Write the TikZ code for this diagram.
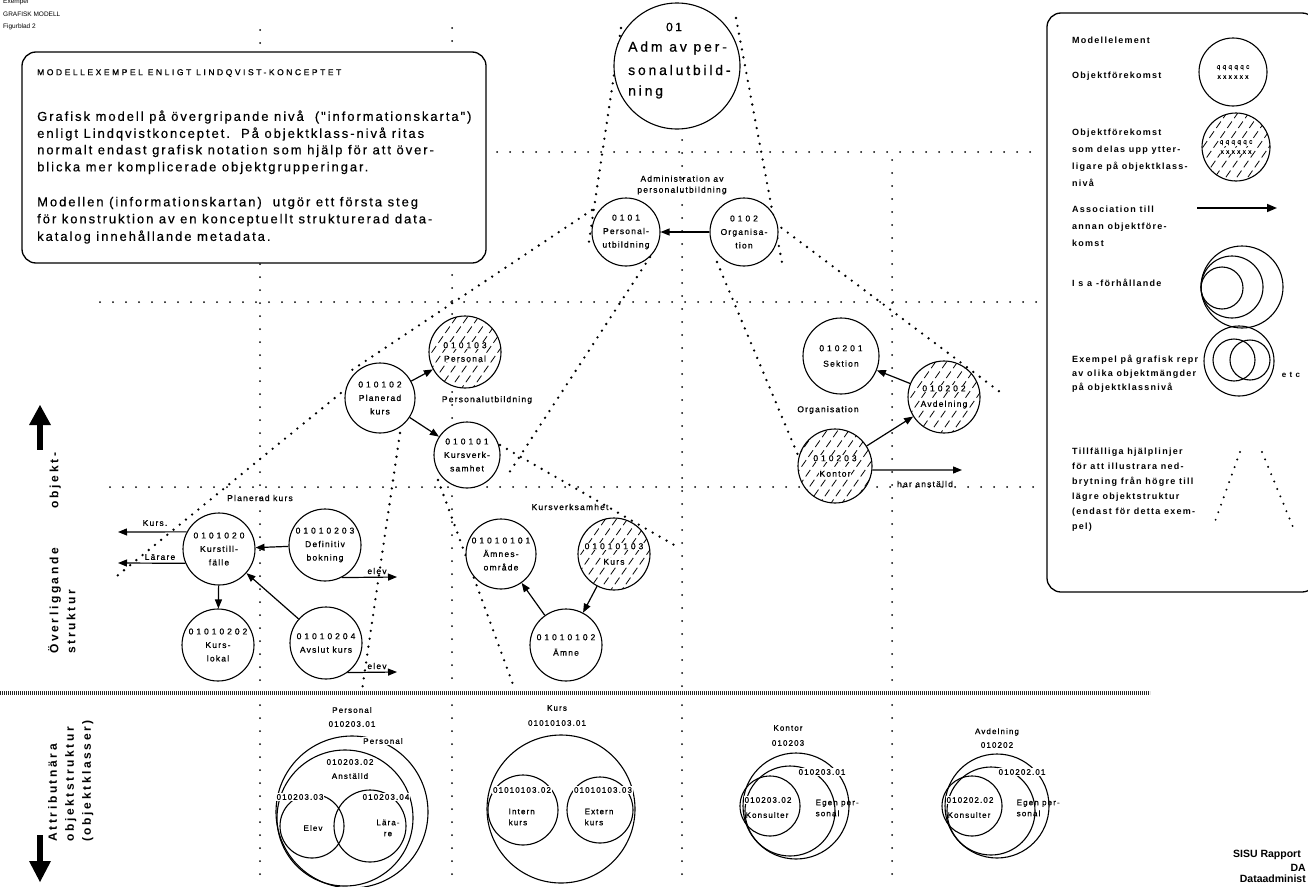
\documentclass[tikz,border=0pt]{standalone}
\usepackage{fontspec}
\setmainfont{Liberation Sans}
\newfontfamily\labf[LetterSpace=14, FakeBold=0.7]{Liberation Sans}
\newfontfamily\numf[LetterSpace=35, FakeBold=0.7]{Liberation Sans}
\newfontfamily\boxf[LetterSpace=15, FakeBold=0.4]{Liberation Sans}
\newfontfamily\capf[LetterSpace=30, FakeBold=0.8]{Liberation Sans}
\newfontfamily\bigf[LetterSpace=20, FakeBold=0.6]{Liberation Sans}
\newfontfamily\legf[LetterSpace=14, UprightFont={* Bold}]{Liberation Sans}
\newfontfamily\sidef[LetterSpace=22, UprightFont={* Bold}]{Liberation Sans}
\usetikzlibrary{arrows.meta}

\newcommand\lblsize{\labf\fontsize{8.5}{13.5}\selectfont}
\newcommand\smalllbl{\labf\fontsize{8}{11}\selectfont}
\newcommand\N[1]{{\numf #1}}
\newcommand\wb[1]{\colorbox{white}{#1}}
\setlength\fboxsep{0.6pt}

\tikzset{
  gridline/.style={line width=2pt, dash pattern=on 0pt off 13pt, line cap=round},
  helper/.style={line width=2.6pt, dash pattern=on 0pt off 8pt, line cap=round},
  obj/.style={circle, draw, line width=1.1pt, fill=white, minimum size=#1,
    inner sep=0pt, align=center, font=\lblsize},
  obj/.default=72pt,
  hatched/.style={path picture={
      \foreach \k in {-7,...,7}
        \draw[line width=0.8pt, dash pattern=on 8pt off 4pt]
          ([shift={(\k*11pt-28pt,-40pt)}]path picture bounding box.center) -- ++(56pt,80pt);
  }},
  assoc/.style={-{Triangle[length=9pt,width=7pt]}, line width=1.2pt},
  lbl/.style={font=\lblsize, inner sep=0.5pt},
  attr/.style={line width=1.1pt},
  gap/.style={font=\smalllbl, fill=white, inner sep=1pt},
  leg/.style={font=\legf\fontsize{9}{17}\selectfont, anchor=north west, align=left, inner sep=0pt},
  para/.style={font=\boxf\fontsize{13}{17}\selectfont, anchor=west, inner sep=0pt},
  side/.style={font=\sidef\fontsize{12}{17}\selectfont, rotate=90, anchor=north west, align=left, inner sep=0pt},
  report/.style={anchor=east, inner sep=0pt, font=\bfseries\fontsize{10.5}{12}\selectfont},
}

\begin{document}
\begin{tikzpicture}[x=1pt,y=-1pt]
\useasboundingbox (0,0) rectangle (1308,886);
\fill[white] (0,0) rectangle (1308,886);

% --- level grid -------------------------------------------------------
\draw[gridline] (497,152) -- (1040,152);
\draw[gridline] (100,302) -- (1040,302);
\draw[gridline] (110,487) -- (1040,487);
\draw[gridline] (260,30) -- (260,690);
\draw[gridline] (260,705) -- (260,886);
\draw[gridline] (452,28) -- (452,690);
\draw[gridline] (452,705) -- (452,886);
\draw[gridline] (682,140) -- (682,690);
\draw[gridline] (682,705) -- (682,886);
\draw[gridline] (892,160) -- (892,690);
\draw[gridline] (892,705) -- (892,886);

% --- break-down help lines ----------------------------------------------
\draw[helper] (621,28) -- (588,248);
\draw[helper] (736,18) -- (783,268);
\draw[helper] (592,210) -- (352,370);
\draw[helper] (650,257) -- (507,476);
\draw[helper] (347,388) -- (112,580);
\draw[helper] (400,433) -- (362,690);
\draw[helper] (438,480) -- (515,690);
\draw[helper] (500,445) -- (676,546);
\draw[helper] (717,262) -- (805,472);
\draw[helper] (775,223) -- (1000,392);

% --- border between the two structure levels ----------------------------
\draw[line width=4.5pt, black!85, dash pattern=on 1.3pt off 0.7pt] (0,693) -- (1150,693);

% --- header -------------------------------------------------------------
\node[anchor=west, font=\fontsize{6.5}{7}\selectfont, inner sep=0pt] at (3,2) {Exempel};
\node[anchor=west, font=\fontsize{6.5}{7}\selectfont, inner sep=0pt] at (3,14) {GRAFISK MODELL};
\node[anchor=west, font=\fontsize{6.5}{7}\selectfont, inner sep=0pt] at (3,27) {Figurblad 2};

% --- description box ----------------------------------------------------
\draw[line width=1.3pt, fill=white, rounded corners=14pt] (22,52) rectangle (486,263);
\node[anchor=west, inner sep=0pt, font=\capf\fontsize{8.5}{10}\selectfont] at (37,73) {MODELLEXEMPEL ENLIGT LINDQVIST-KONCEPTET};
\node[para] at (37,117) {Grafisk modell på övergripande nivå\ \ ("informationskarta")};
\node[para] at (37,134) {enligt Lindqvistkonceptet.\ \ På objektklass-nivå ritas};
\node[para] at (37,151) {normalt endast grafisk notation som hjälp för att över-};
\node[para] at (37,168) {blicka mer komplicerade objektgrupperingar.};
\node[para] at (37,203) {Modellen (informationskartan)\ \ utgör ett första steg};
\node[para] at (37,220) {för konstruktion av en konceptuellt strukturerad data-};
\node[para] at (37,237) {katalog innehållande metadata.};

% --- top object ---------------------------------------------------------
\node[obj=126pt] (c01) at (677,66) {};
\node[font=\bigf\fontsize{12}{14}\selectfont, inner sep=0pt] at (674,27) {01};
\node[anchor=west, inner sep=0pt, font=\bigf\fontsize{14}{16}\selectfont] at (628,48) {Adm av per-};
\node[anchor=west, inner sep=0pt, font=\bigf\fontsize{14}{16}\selectfont] at (628,70) {sonalutbild-};
\node[anchor=west, inner sep=0pt, font=\bigf\fontsize{14}{16}\selectfont] at (628,92) {ning};

% --- Administration av personalutbildning -------------------------------
\node[lbl, align=center, font=\labf\fontsize{8.5}{11}\selectfont] at (682,185) {Administration av\\personalutbildning};
\node[obj=68pt] (n0101) at (626,232) {\N{0101}\\Personal-\\utbildning};
\node[obj=68pt] (n0102) at (744,232) {\N{0102}\\Organisa-\\tion};
\draw[assoc] (n0102) -- (n0101);

% --- Personalutbildning -------------------------------------------------
\node[obj=72pt, hatched] (n010103) at (465,352) {\wb{\N{010103}}\\\wb{Personal}};
\node[obj=70pt] (n010102) at (380,398) {\N{010102}\\Planerad\\kurs};
\node[obj=66pt] (n010101) at (467,455) {\N{010101}\\Kursverk-\\samhet};
\node[lbl] at (487,400) {Personalutbildning};
\draw[assoc] (n010102) -- (n010103);
\draw[assoc] (n010102) -- (n010101);

% --- Organisation -------------------------------------------------------
\node[obj=76pt] (n010201) at (841,356) {\N{010201}\\[2pt]Sektion};
\node[obj=72pt, hatched] (n010202) at (944,397) {\wb{\N{010202}}\\[2pt]\wb{Avdelning}};
\node[obj=74pt, hatched] (n010203) at (835,466) {\wb{\N{010203}}\\[2pt]\wb{Kontor}};
\node[lbl] at (828,410) {Organisation};
\coordinate (harR) at (962,470);
\draw[assoc] (n010202) -- (n010201);
\draw[assoc] (n010203) -- (n010202);
\draw[assoc] (n010203.-6) -- (harR);
\node[lbl] at (925,484) {har anställd};

% --- Planerad kurs ------------------------------------------------------
\node[lbl] at (260,498) {Planerad kurs};
\node[obj=72pt] (k01) at (219,549) {\N{0101020}\\Kurstill-\\fälle};
\node[obj=72pt] (k03) at (325,545) {\N{01010203}\\Definitiv\\bokning};
\node[obj=72pt] (k02) at (218,645) {\N{01010202}\\Kurs-\\lokal};
\node[obj=72pt] (k04) at (326,643) {\N{01010204}\\Avslut kurs};
\coordinate (kursL) at (118,532);
\coordinate (larL) at (118,563);
\coordinate (elevA) at (397,577);
\coordinate (elevB) at (397,672);
\draw[assoc] (k01.152) -- (kursL);
\draw[assoc] (k01.203) -- (larL);
\draw[assoc] (k03) -- (k01);
\draw[assoc] (k04) -- (k01);
\draw[assoc] (k01) -- (k02);
\draw[assoc] (k03.-63) -- (elevA);
\draw[assoc] (k04.-54) -- (elevB);
\node[lbl] at (155,523) {Kurs.};
\node[lbl] at (160,557) {Lärare};
\node[lbl] at (377,571) {elev};
\node[lbl] at (377,666) {elev};

% --- Kursverksamhet -----------------------------------------------------
\node[lbl] at (570,507) {Kursverksamhet};
\node[obj=70pt] (m01) at (501,554) {\N{01010101}\\Ämnes-\\område};
\node[obj=72pt, hatched] (m03) at (614,554) {\wb{\N{01010103}}\\[2pt]\wb{Kurs}};
\node[obj=72pt] (m02) at (566,645) {\N{01010102}\\[2pt]Ämne};
\draw[assoc] (m02) -- (m01);
\draw[assoc] (m03) -- (m02);

% --- attribute level: Personal -----------------------------------------
\node[lbl, font=\smalllbl] at (352,710) {Personal};
\node[lbl, font=\smalllbl] at (352,724) {010203.01};
\draw[attr] (352,812) circle[radius=76pt];
\draw[attr] (345,818) circle[radius=68pt];
\draw[attr] (312,826) circle[radius=32pt];
\draw[attr] (370,826) circle[radius=36pt];
\node[gap] at (383,741) {Personal};
\node[lbl, font=\smalllbl] at (350,762) {010203.02};
\node[lbl, font=\smalllbl] at (350,776) {Anställd};
\node[gap] at (300,797) {010203.03};
\node[gap] at (386,797) {010203.04};
\node[lbl, font=\smalllbl] at (313,828) {Elev};
\node[lbl, font=\smalllbl, align=center] at (388,828) {Lära-\\re};

% --- attribute level: Kurs ---------------------------------------------
\node[lbl, font=\smalllbl] at (557,708) {Kurs};
\node[lbl, font=\smalllbl] at (557,723) {01010103.01};
\draw[attr] (561,809) circle[radius=74pt];
\draw[attr] (523,810) circle[radius=35pt];
\draw[attr] (600,810) circle[radius=33pt];
\node[gap] at (522,790) {01010103.02};
\node[gap] at (603,790) {01010103.03};
\node[lbl, font=\smalllbl, align=left, anchor=west] at (508,817) {Intern\\kurs};
\node[lbl, font=\smalllbl, align=left, anchor=west] at (584,817) {Extern\\kurs};

% --- attribute level: Kontor -------------------------------------------
\node[lbl, font=\smalllbl] at (788,728) {Kontor};
\node[lbl, font=\smalllbl] at (788,743) {010203};
\draw[attr] (796,806) circle[radius=53pt];
\draw[attr] (790,811) circle[radius=45pt];
\draw[attr] (770,806) circle[radius=30pt];
\node[gap] at (822,772) {010203.01};
\node[gap] at (768,800) {010203.02};
\node[lbl, font=\smalllbl] at (767,815) {Konsulter};
\node[lbl, font=\smalllbl, align=left, anchor=west] at (815,808) {Egen per-\\sonal};

% --- attribute level: Avdelning ----------------------------------------
\node[lbl, font=\smalllbl] at (997,732) {Avdelning};
\node[lbl, font=\smalllbl] at (997,745) {010202};
\draw[attr] (997,806) circle[radius=52pt];
\draw[attr] (991,811) circle[radius=44pt];
\draw[attr] (972,806) circle[radius=30pt];
\node[gap] at (1022,772) {010202.01};
\node[gap] at (970,800) {010202.02};
\node[lbl, font=\smalllbl] at (969,815) {Konsulter};
\node[lbl, font=\smalllbl, align=left, anchor=west] at (1016,808) {Egen per-\\sonal};

% --- level captions -----------------------------------------------------
\fill (37,450) rectangle (43,422);
\fill (29,425) -- (40,405) -- (51,425) -- cycle;
\node[side] at (48,654) {Överliggande\hspace{40pt}objekt-\\struktur};
\fill (37,835) rectangle (43,864);
\fill (29,861) -- (40,882) -- (51,861) -- cycle;
\node[side] at (48,842) {Attributnära\\objektstruktur\\(objektklasser)};

% --- legend -------------------------------------------------------------
\draw[line width=1.3pt, fill=white, rounded corners=14pt] (1047,13) rectangle (1316,592);
\node[leg] at (1072,37) {Modellelement};
\node[leg] at (1072,72) {Objektförekomst};
\node[circle, draw, line width=1.1pt, minimum size=68pt, inner sep=0pt, align=center,
  font=\numf\fontsize{6.5}{10}\selectfont] (le1) at (1233,72) {qqqqqc\\xxxxxx};
\node[leg] at (1072,129) {Objektförekomst\\som delas upp ytter-\\ligare på objektklass-\\nivå};
\node[circle, draw, line width=1.1pt, minimum size=68pt, inner sep=0pt, align=center, hatched,
  font=\numf\fontsize{6.5}{10}\selectfont] (le2) at (1236,147) {\wb{qqqqqc}\\\wb{xxxxxx}};
\node[leg] at (1072,206) {Association till\\annan objektföre-\\komst};
\coordinate (la1) at (1197,208);
\coordinate (la2) at (1277,208);
\draw[-{Triangle[length=10pt,width=8pt]}, line width=1.6pt] (la1) -- (la2);
\node[leg] at (1072,279) {I s a -förhållande};
\draw[attr] (1242,287) circle[radius=41pt];
\draw[attr] (1232,287) circle[radius=31pt];
\draw[attr] (1222,288) circle[radius=21pt];
\node[leg, font=\legf\fontsize{9}{14}\selectfont] at (1072,355) {Exempel på grafisk repr\\av olika objektmängder\\på objektklassnivå};
\draw[attr] (1239,361) circle[radius=35pt];
\draw[attr] (1234,360) circle[radius=21pt];
\draw[attr] (1250,360) circle[radius=20pt];
\node[font=\legf\fontsize{8}{9}\selectfont, inner sep=0pt] at (1291,375) {e t c};
\node[leg, font=\legf\fontsize{9}{15}\selectfont] at (1072,448) {Tillfälliga hjälplinjer\\för att illustrara ned-\\brytning från högre till\\lägre objektstruktur\\(endast för detta exem-\\pel)};
\draw[helper, line width=2.2pt] (1240,452) -- (1213,527);
\draw[helper, line width=2.2pt] (1262,452) -- (1293,527);

% --- report reference ---------------------------------------------------
\node[report] at (1301,855) {SISU Rapport};
\node[report] at (1306,868) {DA};
\node[report] at (1306,879) {Dataadminist};
\end{tikzpicture}
\end{document}
